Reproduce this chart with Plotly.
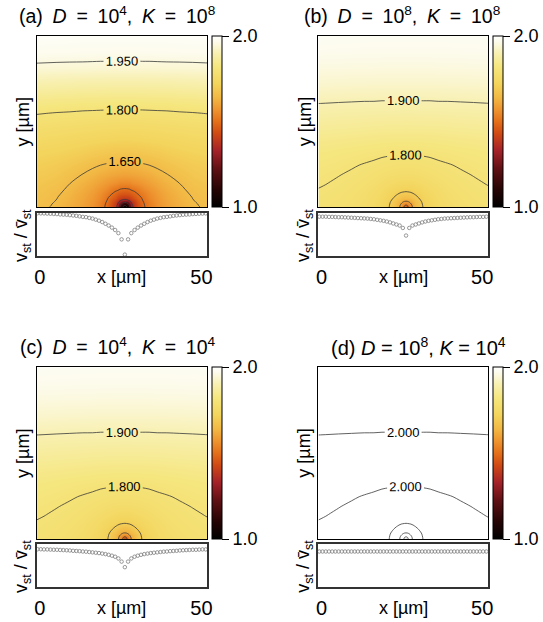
import plotly.graph_objects as go

W, H = 543, 622
FONT = "Liberation Sans, Arial, sans-serif"

# ================= data =================
src_x = 26.3      # x of the point source at the bottom edge [um]

# grid of the readings: distance from the source along x (one side, mirrored) and height y [um]
d_nodes = [0, 0.5, 1, 1.5, 2.2, 3, 4, 5.5, 7.5, 10, 13, 17, 21, 25, 29]
y_nodes = [0, 0.5, 1, 1.5, 2.2, 3, 4, 5.5, 7.5, 10, 13, 17, 21, 25, 29, 33, 38, 43, 48, 53]

# (a) D=1e4, K=1e8 : depth below 2.0 of the field, in thousandths (rows = y_nodes, cols = d_nodes)
depth_a = [
    [1000, 963, 903, 803, 673, 613, 563, 517, 469, 432, 403, 378, 357, 345, 337],
    [962, 937, 878, 787, 667, 609, 561, 515, 468, 431, 402, 377, 356, 343, 336],
    [900, 877, 818, 744, 652, 603, 557, 512, 466, 429, 400, 375, 355, 342, 334],
    [799, 784, 743, 684, 635, 592, 551, 507, 464, 427, 399, 374, 353, 341, 333],
    [668, 663, 651, 633, 602, 572, 540, 500, 457, 424, 396, 371, 351, 339, 331],
    [605, 603, 598, 588, 570, 548, 525, 491, 450, 420, 393, 369, 349, 337, 329],
    [553, 552, 549, 545, 536, 522, 502, 476, 442, 413, 388, 365, 345, 334, 326],
    [508, 507, 505, 502, 491, 484, 471, 449, 426, 402, 380, 358, 339, 329, 322],
    [452, 451, 450, 449, 442, 437, 431, 420, 404, 387, 369, 349, 330, 322, 315],
    [402, 402, 401, 401, 399, 397, 394, 388, 379, 365, 352, 335, 319, 311, 306],
    [364, 364, 364, 363, 362, 361, 359, 355, 350, 342, 331, 316, 306, 298, 294],
    [320, 320, 320, 319, 319, 318, 317, 315, 311, 306, 297, 289, 282, 277, 273],
    [279, 279, 279, 279, 278, 278, 277, 275, 273, 270, 267, 262, 257, 254, 250],
    [245, 245, 245, 244, 244, 244, 244, 243, 242, 240, 238, 235, 232, 229, 225],
    [210, 210, 210, 210, 210, 210, 210, 210, 209, 208, 207, 204, 202, 199, 196],
    [171, 171, 171, 171, 171, 171, 171, 170, 170, 169, 168, 166, 164, 161, 159],
    [117, 117, 117, 117, 117, 117, 117, 117, 116, 116, 115, 113, 111, 109, 108],
    [64, 64, 64, 64, 64, 64, 64, 64, 64, 63, 62, 62, 61, 60, 59],
    [30, 30, 30, 30, 30, 30, 30, 29, 29, 29, 29, 28, 28, 27, 26],
    [14, 14, 14, 14, 14, 14, 14, 14, 14, 14, 14, 13, 12, 12, 11],
]

# (b) and (c) show the same pattern: depth below 2.0, in thousandths
depth_bc = [
    [607, 522, 465, 425, 386, 352, 324, 295, 272, 253, 239, 227, 219, 214, 210],
    [521, 497, 455, 419, 383, 350, 322, 294, 271, 252, 238, 226, 218, 213, 209],
    [463, 454, 430, 405, 375, 346, 320, 292, 270, 251, 237, 225, 217, 212, 208],
    [422, 417, 404, 387, 364, 339, 316, 290, 268, 250, 236, 224, 216, 211, 207],
    [382, 380, 373, 362, 345, 328, 308, 285, 265, 248, 234, 223, 215, 209, 206],
    [347, 346, 342, 337, 326, 313, 298, 280, 261, 245, 232, 221, 213, 208, 204],
    [317, 316, 314, 311, 305, 296, 286, 272, 256, 242, 230, 219, 211, 206, 202],
    [286, 285, 284, 283, 279, 275, 270, 260, 248, 237, 225, 215, 208, 203, 199],
    [259, 259, 259, 258, 256, 253, 250, 245, 237, 228, 219, 211, 204, 199, 196],
    [236, 236, 236, 235, 235, 234, 232, 229, 224, 218, 211, 204, 199, 195, 191],
    [217, 217, 217, 217, 216, 216, 215, 213, 210, 206, 202, 197, 192, 188, 185],
    [196, 196, 196, 196, 196, 195, 195, 194, 193, 190, 188, 184, 181, 177, 175],
    [171, 171, 171, 171, 171, 171, 171, 170, 170, 168, 166, 164, 161, 159, 157],
    [147, 146, 146, 146, 146, 146, 146, 146, 145, 145, 143, 141, 140, 138, 136],
    [124, 124, 124, 124, 123, 123, 123, 123, 123, 122, 121, 120, 119, 117, 116],
    [99, 99, 99, 99, 99, 99, 99, 99, 99, 98, 98, 97, 96, 95, 94],
    [72, 72, 72, 72, 72, 72, 72, 72, 72, 72, 71, 71, 70, 69, 68],
    [50, 50, 50, 50, 50, 50, 50, 50, 50, 49, 49, 49, 48, 48, 47],
    [32, 32, 32, 32, 32, 32, 32, 32, 32, 32, 32, 31, 31, 30, 30],
    [20, 20, 20, 20, 20, 20, 20, 20, 20, 20, 19, 19, 19, 18, 18],
]
# (d) has the same pattern, but 1000x shallower (everything reads 2.000)
depth_unit = {'a': 1e-3, 'b': 1e-3, 'c': 1e-3, 'd': 1e-6}

# v_st / mean(v_st) along the bottom, sampled every 1 um, from the source outward
strip_a = [0.02, 0.46, 0.64, 0.73, 0.80, 0.86, 0.91, 0.96, 1.00, 1.03, 1.06, 1.08, 1.10, 1.11,
           1.125, 1.14, 1.15, 1.16, 1.17, 1.175, 1.18, 1.19, 1.195, 1.20, 1.205, 1.21, 1.21, 1.215]
strip_b = [0.57, 0.79, 0.86, 0.89, 0.92, 0.95, 0.975, 0.995, 1.01, 1.025, 1.04, 1.05, 1.06, 1.065,
           1.07, 1.075, 1.08, 1.085, 1.09, 1.095, 1.10, 1.10, 1.105, 1.11, 1.11, 1.115, 1.115, 1.115]
strip_c = [0.55, 0.71, 0.80, 0.85, 0.88, 0.905, 0.925, 0.94, 0.955, 0.965, 0.975, 0.985, 0.995, 1.00,
           1.01, 1.015, 1.02, 1.03, 1.035, 1.04, 1.045, 1.05, 1.05, 1.055, 1.06, 1.06, 1.065, 1.065]
strip_d = [1.0] * 28

SP = "\u2002"
titles = ["(a)" + SP + "<i>D</i>" + SP + "=" + SP + "10<sup>4</sup>," + SP + "<i>K</i>" + SP + "=" + SP + "10<sup>8</sup>",
          "(b)" + SP + "<i>D</i>" + SP + "=" + SP + "10<sup>8</sup>," + SP + "<i>K</i>" + SP + "=" + SP + "10<sup>8</sup>",
          "(c)" + SP + "<i>D</i>" + SP + "=" + SP + "10<sup>4</sup>," + SP + "<i>K</i>" + SP + "=" + SP + "10<sup>4</sup>",
          "(d) <i>D</i> = 10<sup>8</sup>, <i>K</i> = 10<sup>4</sup>"]

# ================= assemble =================
def mirror(half):
    return list(half[:0:-1]) + list(half)

xs = [src_x - d for d in d_nodes[:0:-1]] + [src_x + d for d in d_nodes]

def field(depth, unit):
    return [[2 - v * unit for v in mirror(row)] for row in depth]

z = {'a': field(depth_a, depth_unit['a']), 'b': field(depth_bc, depth_unit['b']),
     'c': field(depth_bc, depth_unit['c']), 'd': field(depth_bc, depth_unit['d'])}
strip_x = [src_x + k for k in range(-27, 28)]

colorscale = [[0, '#000000'], [0.10, '#250404'], [0.22, '#5e1014'], [0.33, '#a5222a'],
              [0.43, '#d04a14'], [0.50, '#e4701a'], [0.57, '#ee9430'], [0.64, '#f2b844'],
              [0.72, '#f3d45c'], [0.82, '#f5e67e'], [0.90, '#f8f0b2'], [0.96, '#fcfae6'],
              [1, '#ffffff']]

# layout geometry in window pixels
panels = [
    dict(k='a', strip=strip_a, x0=35, x1=208, hy0=36, hy1=207.3, sy0=212.7, sy1=256,
         lab=(1.65, 1.95, 0.15), unl=(1.05, 1.5, 0.15), cbx=212.7, tx=117, ty=15, ts=19.5),
    dict(k='b', strip=strip_b, x0=320.5, x1=492.3, hy0=36, hy1=207.3, sy0=212.7, sy1=256,
         lab=(1.8, 1.9, 0.1), unl=(1.4, 1.7, 0.1), cbx=497.7, tx=405, ty=15, ts=19.5),
    dict(k='c', strip=strip_c, x0=35, x1=208, hy0=367.3, hy1=539, sy0=543.5, sy1=587,
         lab=(1.8, 1.9, 0.1), unl=(1.4, 1.7, 0.1), cbx=212.7, tx=117.5, ty=346, ts=19.5),
    dict(k='d', strip=strip_d, x0=320.5, x1=492.3, hy0=367.3, hy1=539, sy0=543.5, sy1=587,
         lab=(1.9998, 1.9999, 0.0001), unl=(1.9994, 1.9997, 0.0001), cbx=497.7, tx=422, ty=346, ts=20),
]

XR = [-1.0, 51.8]
fig = go.Figure()
layout = dict(width=W, height=H, margin=dict(l=0, r=0, t=0, b=0),
              paper_bgcolor='white', plot_bgcolor='white', showlegend=False,
              font=dict(family=FONT, size=18, color='black'))
annotations = []

def px_x(p):
    return p / W

def px_y(p):
    return 1 - p / H

for i, p in enumerate(panels):
    hx, hy = 'x%d' % (2 * i + 1), 'y%d' % (2 * i + 1)
    sx, sy = 'x%d' % (2 * i + 2), 'y%d' % (2 * i + 2)
    zz = z[p['k']]
    fig.add_trace(go.Heatmap(
        x=xs, y=y_nodes, z=zz, zmin=1, zmax=2, zsmooth='best', colorscale=colorscale,
        xaxis=hx, yaxis=hy, hoverinfo='skip',
        colorbar=dict(x=px_x(p['cbx']), xanchor='left', xpad=0, ypad=0,
                      y=px_y((p['hy0'] + p['hy1']) / 2), yanchor='middle',
                      len=p['hy1'] - p['hy0'], lenmode='pixels', thickness=9.5,
                      outlinewidth=1, outlinecolor='black',
                      tickvals=[1, 2], ticktext=['1.0', '2.0'], ticks='outside',
                      ticklen=7, tickwidth=1, tickcolor='black',
                      tickfont=dict(size=18, family=FONT))))
    fig.add_trace(go.Contour(
        x=xs, y=y_nodes, z=zz, xaxis=hx, yaxis=hy, showscale=False, hoverinfo='skip',
        contours=dict(coloring='none', start=p['unl'][0], end=p['unl'][1], size=p['unl'][2]),
        line=dict(color='#3a3a3a', width=0.8, smoothing=1.0)))
    fig.add_trace(go.Contour(
        x=xs, y=y_nodes, z=zz, xaxis=hx, yaxis=hy, showscale=False, hoverinfo='skip',
        contours=dict(coloring='none', start=p['lab'][0], end=p['lab'][1], size=p['lab'][2],
                      showlabels=True, labelformat='.3f',
                      labelfont=dict(size=13, color='black', family=FONT)),
        line=dict(color='#3a3a3a', width=0.8, smoothing=1.0)))
    fig.add_trace(go.Scatter(
        x=strip_x, y=mirror(p['strip']), mode='markers', xaxis=sx, yaxis=sy,
        cliponaxis=False,
        marker=dict(symbol='circle-open', size=3.5, color='#808080', line=dict(width=0.8))))

    dom_x = [px_x(p['x0']), px_x(p['x1'])]
    ax_common = dict(showgrid=False, zeroline=False, showline=True, mirror=True)
    layout['xaxis%d' % (2 * i + 1)] = dict(domain=dom_x, range=XR, anchor=hy, linecolor='black',
                                          showticklabels=False, ticks='', linewidth=1.3, **ax_common)
    layout['yaxis%d' % (2 * i + 1)] = dict(domain=[px_y(p['hy1']), px_y(p['hy0'])], range=[0, 52.8],
                                          anchor=hx, linecolor='black',
                                          showticklabels=False, ticks='', linewidth=1.3, **ax_common)
    layout['xaxis%d' % (2 * i + 2)] = dict(domain=dom_x, range=XR, anchor=sy, linecolor='#333333',
                                          tickvals=[0, 50], ticktext=['0', '50'], ticks='outside',
                                          ticklen=2, tickcolor='rgba(0,0,0,0)',
                                          tickfont=dict(size=20, family=FONT), linewidth=2, **ax_common)
    layout['yaxis%d' % (2 * i + 2)] = dict(domain=[px_y(p['sy1']), px_y(p['sy0'])], range=[-0.02, 1.23],
                                          anchor=sx, linecolor='#333333',
                                          showticklabels=False, ticks='', linewidth=2, **ax_common)
    annotations.append(dict(text=titles[i], x=px_x(p['tx']), y=px_y(p['ty']), xref='paper', yref='paper',
                            showarrow=False, xanchor='center', yanchor='middle', font=dict(size=p['ts'])))
    lx = p['x0'] - 14
    annotations.append(dict(text='y [\u00b5m]', x=px_x(lx), y=px_y((p['hy0'] + p['hy1']) / 2),
                            xref='paper', yref='paper', showarrow=False, textangle=-90,
                            xanchor='center', yanchor='middle', font=dict(size=18)))
    annotations.append(dict(text='v<sub>st</sub> / v\u0304<sub>st</sub>', x=px_x(lx),
                            y=px_y((p['sy0'] + p['sy1']) / 2 + 1), xref='paper', yref='paper',
                            showarrow=False, textangle=-90, xanchor='center', yanchor='middle',
                            font=dict(size=18)))
    annotations.append(dict(text='x [\u00b5m]', x=px_x((p['x0'] + p['x1']) / 2), y=px_y(p['sy1'] + 21),
                            xref='paper', yref='paper', showarrow=False, xanchor='center',
                            yanchor='middle', font=dict(size=18)))

layout['annotations'] = annotations
fig.update_layout(**layout)
fig.write_html("out.html", config={'displayModeBar': False},
               post_script="document.body.style.margin='0';")
